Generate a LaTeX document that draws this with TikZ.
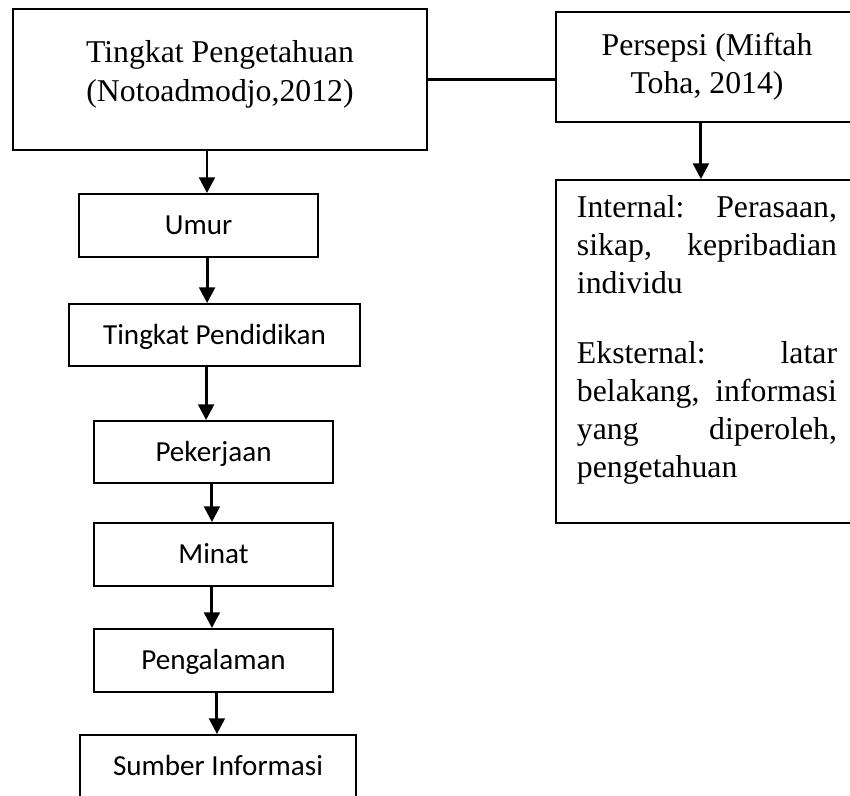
\documentclass[tikz,border=0pt]{standalone}
\usepackage{fontspec}
\setmainfont{Liberation Serif}
\newfontfamily\calibri{Carlito}
\usepackage{tikz}
\usetikzlibrary{positioning, arrows.meta}

\tikzstyle{judul}=[%
      rectangle, draw=black, line width=0.75pt, fill=none,
      font=\fontsize{12}{14.4}\selectfont, align=center, inner sep=0pt
]
\tikzstyle{isi}=[%
      rectangle, draw=black, line width=0.75pt, fill=none,
      font=\fontsize{12}{14.4}\selectfont, inner xsep=7.9pt, inner ysep=5.67pt
]
\tikzstyle{faktor}=[%
      rectangle, draw=black, line width=0.75pt, fill=none,
      font=\calibri\fontsize{11}{13}\selectfont, text height=7.1pt, text depth=0pt,
      inner sep=0pt, minimum width=90.3pt, minimum height=23.8pt
]

\begin{document}
\begin{tikzpicture}[x=0.378pt, y=-0.378pt,
    -{Triangle[length=5.9pt,width=5.9pt]}, line width=1.1pt
  ]
    \useasboundingbox (0,0) rectangle (850,795);
    \clip (0,0) rectangle (850,795);

    \node[judul, minimum width=156.5pt, minimum height=53.3pt] (tahu)     at (220,79.5) {Tingkat Pengetahuan\\(Notoadmodjo,2012)\rule[-6.4pt]{0pt}{0pt}};
    \node[judul, minimum width=114.2pt, minimum height=41.6pt] (persepsi) at (707,67)   {Persepsi (Miftah\\Toha, 2014)};
    \node[isi]  (internal) [below = 21.2pt of persepsi] {\parbox[c][118.3pt][t]{98.3pt}{%
        Internal:\hfill Perasaan,\\ sikap,\hfill kepribadian\\ individu\par\vspace{12pt}%
        Eksternal:\hfill latar\\ belakang,\hfill informasi\\ yang\hfill diperoleh,\\ pengetahuan}};

    \node[faktor]                       (umur)       at (198.5,225.5) {Umur};
    \node[faktor, minimum width=110pt, minimum height=23.4pt] (pendidikan) at (214.5,335) {Tingkat Pendidikan};
    \node[faktor, minimum height=23.4pt] (pekerjaan) at (213.5,452)   {Pekerjaan};
    \node[faktor]                       (minat)      [below = 14.4pt of pekerjaan] {Minat};
    \node[faktor]                       (pengalaman) [below = 15.5pt of minat]     {Pengalaman};
    \node[faktor, minimum width=104.3pt] (sumber)    at (218,766.5)   {Sumber Informasi};

    \path (tahu) edge[-, line width=1.3pt] (tahu -| persepsi.west)
          ([xshift=-2.3pt]persepsi.south) edge ([xshift=-2.3pt]internal.north)
          ([xshift=3.2pt]umur.north |- tahu.south) edge ([xshift=3.2pt]umur.north)
          ([xshift=-2.8pt]pendidikan.north |- umur.south) edge ([xshift=-2.8pt]pendidikan.north)
          ([xshift=-2.8pt]pekerjaan.north |- pendidikan.south) edge ([xshift=-2.8pt]pekerjaan.north)
          ([xshift=-0.6pt]minat.north |- pekerjaan.south) edge ([xshift=-0.6pt]minat.north)
          ([xshift=-0.6pt]pengalaman.north |- minat.south) edge ([xshift=-0.6pt]pengalaman.north)
          ([xshift=-0.4pt]sumber.north |- pengalaman.south) edge ([xshift=-0.4pt]sumber.north)
    ;

\end{tikzpicture}
\end{document}
